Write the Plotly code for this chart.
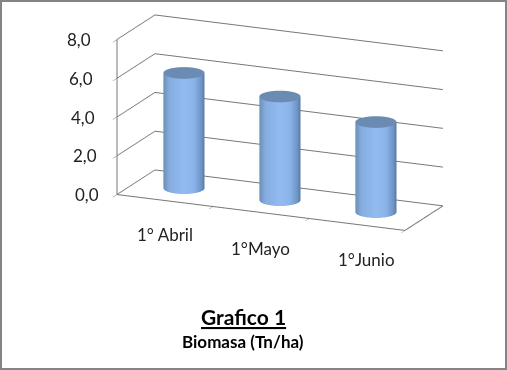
import numpy as np
import plotly.graph_objects as go

categories = ["1° Abril", "1°Mayo", "1°Junio"]
biomasa = [5.95, 5.35, 4.65]
z_ticks = [0, 2, 4, 6, 8]
z_labels = ["0,0", "2,0", "4,0", "6,0", "8,0"]
title_text = "Grafico 1"
subtitle_text = "Biomasa (Tn/ha)"

FONT = "Lato"
GRID = "#777777"
RX, RY = 0.196, 0.217
AZ = np.radians(23.7)
n = len(categories)
cat_xshift = [0, 0, 10]
cat_yshift = [-34, -36, -35]

shade = [[0, "#6a8fb9"], [0.15, "#86aee0"], [0.5, "#92bbf0"], [0.75, "#8ab3ea"], [0.92, "#6f95c5"], [1, "#567aa3"]]
flat = dict(ambient=1, diffuse=0, specular=0, roughness=1, fresnel=0)

fig = go.Figure()
th = np.linspace(0, 2 * np.pi, 145)
for i, v in enumerate(biomasa):
    cx = i + 0.5
    cy = 0.5
    tt, zz = np.meshgrid(th, np.array([0, v]))
    X = cx + RX * np.cos(tt)
    Y = cy + RY * np.sin(tt)
    col = np.cos(tt - AZ)
    fig.add_trace(go.Surface(x=X, y=Y, z=zz, surfacecolor=col, cmin=-1, cmax=1, colorscale=shade,
                             showscale=False, lighting=flat, hoverinfo="skip"))
    rr, tc = np.meshgrid(np.array([0, 1]), th)
    fig.add_trace(go.Surface(x=cx + RX * rr * np.cos(tc), y=cy + RY * rr * np.sin(tc), z=np.full(rr.shape, v),
                             surfacecolor=np.zeros(rr.shape), cmin=0, cmax=1,
                             colorscale=[[0, "#6b8bb2"], [1, "#6b8bb2"]], showscale=False,
                             lighting=flat, hoverinfo="skip"))

fig.add_trace(go.Scatter3d(x=[0, n, n], y=[0, 0, 1], z=[0, 0, 0], mode="lines",
                           line=dict(color=GRID, width=2), hoverinfo="skip"))
fig.add_trace(go.Scatter3d(x=[0, 0], y=[0, 0], z=[0, z_ticks[-1]], mode="lines",
                           line=dict(color=GRID, width=2), hoverinfo="skip"))

ann = []
for t, lab in zip(z_ticks, z_labels):
    ann.append(dict(x=0, y=0, z=t, text=lab, showarrow=False, xanchor="right", xshift=-16 - t,
                    font=dict(family=FONT, size=17, color="#222222")))
for i, c in enumerate(categories):
    ann.append(dict(x=i + 0.5, y=0, z=0, text=c, showarrow=False, xshift=cat_xshift[i], yshift=cat_yshift[i],
                    font=dict(family=FONT, size=17, color="#222222")))

axis_off = dict(showgrid=False, zeroline=False, showticklabels=False, showbackground=False,
                showspikes=False, title="", showline=False)

fig.update_layout(
    width=507, height=370, margin=dict(l=0, r=0, t=0, b=0), paper_bgcolor="white", showlegend=False,
    scene=dict(
        domain=dict(x=[0, 1], y=[0, 1]),
        xaxis=dict(range=[0, n], tickvals=list(range(n + 1)), ticks="outside", ticklen=8, tickcolor=GRID, **axis_off),
        yaxis=dict(range=[0, 1], tickvals=[], **axis_off),
        zaxis=dict(range=[0, z_ticks[-1]], tickvals=z_ticks, showgrid=True, gridcolor=GRID, gridwidth=2,
                   ticks="outside", ticklen=8, tickcolor=GRID, zeroline=False, showticklabels=False,
                   showbackground=False, showspikes=False, title="", showline=False),
        aspectmode="manual", aspectratio=dict(x=1.70, y=0.511, z=0.874),
        camera=dict(eye=dict(x=1.0255, y=-2.692, z=0.501), center=dict(x=-0.0925, y=-0.145, z=-0.323),
                    up=dict(x=0, y=0, z=1), projection=dict(type="orthographic")),
        annotations=ann,
    ),
    annotations=[
        dict(xref="paper", yref="paper", x=243 / 507, y=1 - 316 / 370, yanchor="middle", text=f"<b><u>{title_text}</u></b>",
             showarrow=False, font=dict(family=FONT, size=21, color="black")),
        dict(xref="paper", yref="paper", x=243 / 507, y=1 - 341 / 370, yanchor="middle", text=f"<b>{subtitle_text}</b>",
             showarrow=False, font=dict(family=FONT, size=17, color="black")),
    ],
    shapes=[dict(type="rect", xref="paper", yref="paper", x0=0, x1=1, y0=0, y1=1, line=dict(color="#848484", width=4))],
)
fig.write_html("out.html", config=dict(displayModeBar=False), post_script="document.body.style.margin='0';")
